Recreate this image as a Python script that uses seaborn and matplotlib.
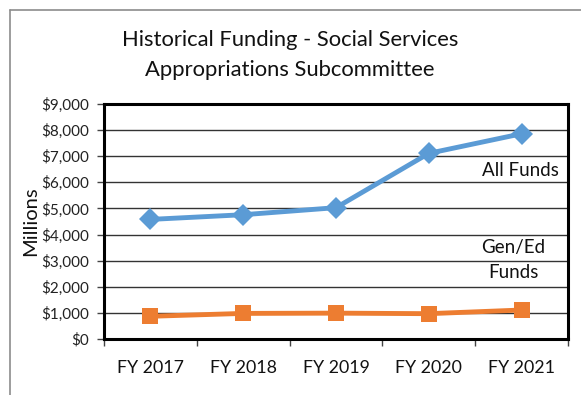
import matplotlib
matplotlib.use("Agg")
import matplotlib.pyplot as plt
import matplotlib.lines as mlines
import seaborn as sns
import pandas as pd
import numpy as np

# Funding by fiscal year, in millions of dollars
years = ["FY 2017", "FY 2018", "FY 2019", "FY 2020", "FY 2021"]
all_funds = [4580, 4760, 5030, 7110, 7860]
gen_ed_funds = [870, 980, 990, 970, 1110]
y_ticks = [0, 1000, 2000, 3000, 4000, 5000, 6000, 7000, 8000, 9000]

df = pd.DataFrame({
    "Year": years * 2,
    "Funding": all_funds + gen_ed_funds,
    "Series": ["All Funds"] * len(years) + ["Gen/Ed Funds"] * len(years),
})

sns.set_theme(style="white")
plt.rcParams["font.family"] = ["Lato", "DejaVu Sans"]

W, H = 581, 395
fig = plt.figure(figsize=(W / 100, H / 100), dpi=100)
ax = fig.add_axes([104 / W, 1 - 339 / H, 464 / W, 235 / H])

# outer chart frame (top and left edges)
frame_kw = dict(transform=fig.transFigure, color="#8c8c8c", linewidth=1.2)
fig.lines.append(mlines.Line2D([10 / W, 1.0], [1 - 10 / H, 1 - 10 / H], **frame_kw))
fig.lines.append(mlines.Line2D([10 / W, 10 / W], [1 - 10 / H, 0.0], **frame_kw))

sns.lineplot(
    data=df, x="Year", y="Funding", hue="Series", style="Series",
    palette={"All Funds": "#5B9BD5", "Gen/Ed Funds": "#ED7D31"},
    markers={"All Funds": "D", "Gen/Ed Funds": "s"},
    dashes=False, linewidth=3.5, markeredgewidth=0, legend=False, ax=ax,
)
for line, ms in zip(ax.lines, [11, 12]):
    line.set_markersize(ms)

ax.set_xlim(-0.5, len(years) - 0.5)
ax.set_ylim(0, 9000)
ax.set_yticks(y_ticks)
ax.set_yticklabels([f"${v:,.0f}" for v in y_ticks], fontsize=11, color="#222222")
ax.yaxis.grid(True, color="#333333", linewidth=1.0)
ax.set_axisbelow(True)

ax.set_xticks(range(len(years)))
ax.set_xticklabels(years, fontsize=12.8, color="#111111")
ax.set_xticks(np.arange(-0.5, len(years)), minor=True)
ax.tick_params(axis="x", which="major", length=0, pad=15)
ax.tick_params(axis="x", which="minor", length=5, width=1, color="#444444", bottom=True)
ax.tick_params(axis="y", which="major", length=5, width=1, color="#444444", left=True, pad=6)

for spine in ax.spines.values():
    spine.set_visible(True)
    spine.set_color("black")
    spine.set_linewidth(2.2)

ax.set_xlabel("")
ax.set_ylabel("Millions", fontsize=14.5, color="#111111", labelpad=1)

fig.text(290 / W, 1 - 40 / H, "Historical Funding - Social Services",
         ha="center", va="center", fontsize=15.8, color="#111111")
fig.text(290 / W, 1 - 70 / H, "Appropriations Subcommittee",
         ha="center", va="center", fontsize=15.8, color="#111111")

ax.text(3.99, 6450, "All Funds", ha="center", va="center", fontsize=13.5, color="#111111")
ax.text(3.91, 3490, "Gen/Ed", ha="center", va="center", fontsize=13.5, color="#111111")
ax.text(3.91, 2530, "Funds", ha="center", va="center", fontsize=13.5, color="#111111")

fig.savefig("out.png", dpi=100)
